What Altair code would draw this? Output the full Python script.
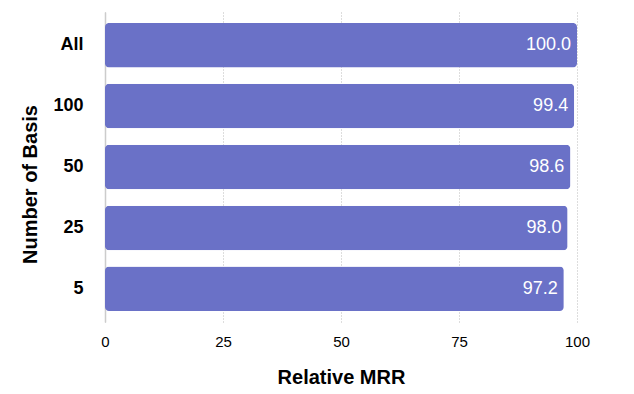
import altair as alt
import pandas as pd

categories = ["All", "100", "50", "25", "5"]
values = [100.0, 99.4, 98.6, 98.0, 97.2]
labels = ["100.0", "99.4", "98.6", "98.0", "97.2"]

df = pd.DataFrame({"basis": categories, "mrr": values, "label": labels})

FONT = "Liberation Sans"

y_enc = alt.Y(
    "basis:N",
    sort=categories,
    title="Number of Basis",
    scale=alt.Scale(paddingInner=0.27, paddingOuter=0.18),
    axis=alt.Axis(
        labelFont=FONT, labelFontSize=18, labelFontWeight="bold", labelColor="#000000",
        labelPadding=22, ticks=False, tickSize=0,
        domain=True, domainColor="#cccccc", domainWidth=1.5,
        grid=False,
        titleFont=FONT, titleFontSize=20, titleFontWeight="bold", titleColor="#000000",
        titleX=-75, titleY=172, titleAlign="center", titleBaseline="middle", titleAngle=270,
    ),
)

x_enc = alt.X(
    "mrr:Q",
    title="Relative MRR",
    scale=alt.Scale(domain=[0, 100], nice=False),
    axis=alt.Axis(
        values=[0, 25, 50, 75, 100],
        labelFont=FONT, labelFontSize=15, labelColor="#000000",
        labelPadding=12, ticks=False, tickSize=0, labelFlush=False,
        domain=False,
        grid=True, gridColor="#bbbbbb", gridDash=[1, 2], gridWidth=1,
        titleFont=FONT, titleFontSize=20, titleFontWeight="bold", titleColor="#000000",
        titleY=55, titleBaseline="middle",
    ),
)

bars = alt.Chart(df).mark_bar(color="#6a71c7", cornerRadius=4).encode(x=x_enc, y=y_enc)

text = alt.Chart(df).mark_text(
    align="right", baseline="middle", dx=-6, color="white", font=FONT, fontSize=18
).encode(
    x=alt.X("mrr:Q"),
    y=alt.Y("basis:N", sort=categories),
    text="label:N",
)

chart = (
    alt.layer(bars, text)
    .properties(
        width=472,
        height=310,
        autosize=alt.AutoSizeParams(type="none"),
        padding={"left": 97, "top": 4, "right": 49, "bottom": 64},
    )
    .configure_view(stroke=None)
)

chart.save("out.html", embed_options={"renderer": "svg", "actions": False})
